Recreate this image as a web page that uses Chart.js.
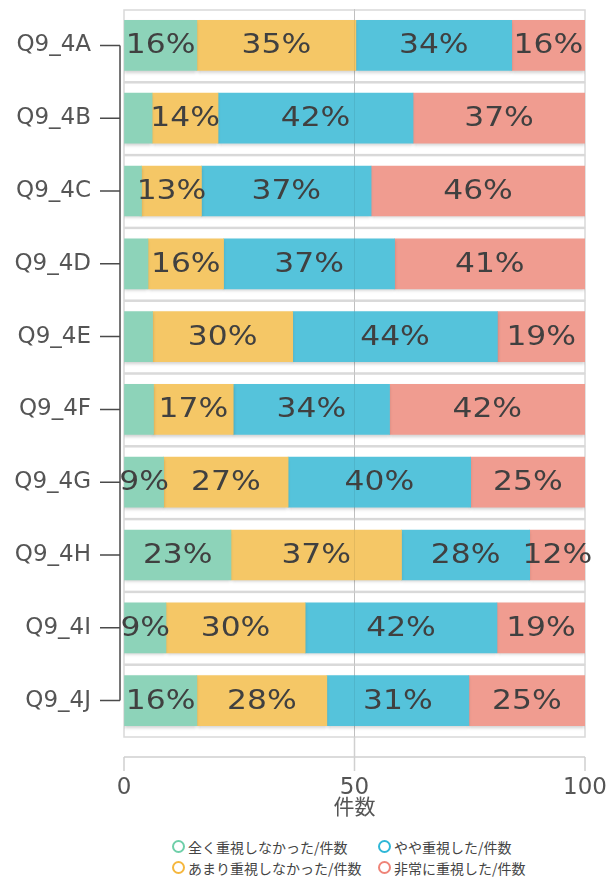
<!DOCTYPE html>
<html>
<head>
<meta charset="utf-8">
<script src="https://cdn.jsdelivr.net/npm/chart.js@4.4.1/dist/chart.umd.min.js"></script>
<style>
  html, body { margin: 0; padding: 0; background: #fff; }
  #wrap { position: relative; width: 608px; height: 883px; overflow: hidden; }
  #chart { display: block; }
  #legend {
    position: absolute; left: 172px; top: 836px;
    display: grid; grid-template-rows: 21px 21px; grid-auto-flow: column;
    grid-template-columns: 206px 160px;
    font: 14px "Noto Sans CJK JP", sans-serif; color: #444;
  }
  #legend .item { display: flex; align-items: center; white-space: nowrap; }
  #legend .ring {
    width: 9px; height: 9px; border-radius: 50%; border: 2.5px solid;
    margin-right: 3px; box-sizing: content-box;
  }
</style>
</head>
<body>
<div id="wrap">
  <canvas id="chart" width="608" height="830"></canvas>
  <div id="legend"></div>
</div>
<script>
/* ---------------------------------------------------
   Data (percent of responses)
---------------------------------------------------*/

const categories = ["Q9_4A", "Q9_4B", "Q9_4C", "Q9_4D", "Q9_4E",
                    "Q9_4F", "Q9_4G", "Q9_4H", "Q9_4I", "Q9_4J"];

const seriesNames = ["全く重視しなかった/件数", "あまり重視しなかった/件数",
                     "やや重視した/件数", "非常に重視した/件数"];

const notAtAll = [15.8, 6.1, 3.8, 5.2, 6.2, 6.4, 8.6, 23.2, 9.1, 15.8];
const notMuch  = [34.5, 14.3, 13.0, 16.4, 30.4, 17.3, 27.0, 37.0, 30.2, 28.2];
const somewhat = [33.8, 42.3, 36.8, 37.1, 44.4, 33.9, 39.6, 27.8, 41.6, 30.8];
const very     = [15.9, 37.3, 46.4, 41.3, 19.0, 42.4, 24.8, 12.0, 19.1, 25.2];

const xTicks = [0, 50, 100];

/* ---------------------------------------------------
   Styles
---------------------------------------------------*/

const barColors    = ["#8dd3b9", "#f5c766", "#55c3db", "#f09c90"];
const legendColors = ["#6fcfa9", "#f5b73e", "#2fb7d7", "#ef8478"];
const latin = '"DejaVu Sans", "Noto Sans CJK JP", sans-serif';

/* ---------------------------------------------------
   Extra drawing: tracks, bracket axis, labels
---------------------------------------------------*/

const decorations = {
    id: "decorations",

    beforeDatasetsDraw(chart) {
        const { ctx, chartArea, scales: { x, y } } = chart;
        const half = (y.getPixelForValue(1) - y.getPixelForValue(0)) / 2;
        const x0 = x.getPixelForValue(0);
        const x1 = x.getPixelForValue(100);

        ctx.save();

        // light frame round every category band
        ctx.strokeStyle = "#d9d9d9";
        ctx.lineWidth = 1.5;
        categories.forEach((c, i) => {
            const cy = y.getPixelForValue(i);
            ctx.strokeRect(x0, cy - half + 1, x1 - x0, half * 2 - 1);
        });

        // bracket-shaped y axis
        const ax = chartArea.left - 4;
        ctx.strokeStyle = "#4a4a4a";
        ctx.lineWidth = 1.5;
        ctx.beginPath();
        ctx.moveTo(ax, y.getPixelForValue(0));
        ctx.lineTo(ax, y.getPixelForValue(categories.length - 1));
        categories.forEach((c, i) => {
            const cy = y.getPixelForValue(i);
            ctx.moveTo(ax - 20, cy);
            ctx.lineTo(ax, cy);
        });
        ctx.stroke();

        // detached x axis line with ticks
        const ay = chartArea.bottom + 20;
        ctx.strokeStyle = "#d0d0d0";
        ctx.lineWidth = 1.5;
        ctx.beginPath();
        ctx.moveTo(x0, ay);
        ctx.lineTo(x1, ay);
        xTicks.forEach(v => {
            const px = x.getPixelForValue(v);
            ctx.moveTo(px, ay);
            ctx.lineTo(px, ay + 14);
        });
        const mid = x.getPixelForValue(50);
        ctx.moveTo(mid, chartArea.bottom);
        ctx.lineTo(mid, ay);
        ctx.stroke();

        ctx.restore();
    },

    beforeDatasetDraw(chart) {
        const ctx = chart.ctx;
        ctx.save();
        ctx.shadowColor = "rgba(0,0,0,0.18)";
        ctx.shadowBlur = 3;
        ctx.shadowOffsetY = 2;
    },

    afterDatasetDraw(chart) {
        chart.ctx.restore();
    },

    afterDatasetsDraw(chart) {
        const { ctx, chartArea, scales: { x } } = chart;

        ctx.save();

        // faint grid line over the bars
        const mid = x.getPixelForValue(50);
        ctx.strokeStyle = "rgba(0,0,0,0.07)";
        ctx.lineWidth = 1;
        ctx.beginPath();
        ctx.moveTo(mid, chartArea.top);
        ctx.lineTo(mid, chartArea.bottom);
        ctx.stroke();

        // percentage labels
        ctx.font = "27px " + latin;
        ctx.fillStyle = "#404040";
        ctx.textAlign = "center";
        ctx.textBaseline = "middle";

        chart.data.datasets.forEach((ds, di) => {
            chart.getDatasetMeta(di).data.forEach((bar, i) => {
                const v = ds.data[i];
                if (v < 8) return;
                ctx.save();
                ctx.translate((bar.x + bar.base) / 2, bar.y + 1);
                ctx.scale(1.16, 1);
                ctx.fillText(Math.round(v) + "%", 0, 0);
                ctx.restore();
            });
        });

        ctx.restore();
    },

    afterUpdate(chart) {
        const box = document.getElementById("legend");
        box.innerHTML = "";
        chart.data.datasets.forEach((ds, i) => {
            const item = document.createElement("div");
            item.className = "item";
            const ring = document.createElement("span");
            ring.className = "ring";
            ring.style.borderColor = legendColors[i];
            const text = document.createElement("span");
            text.textContent = ds.label;
            item.appendChild(ring);
            item.appendChild(text);
            box.appendChild(item);
        });
    }
};

/* ---------------------------------------------------
   Chart
---------------------------------------------------*/

const seriesValues = [notAtAll, notMuch, somewhat, very];

new Chart(document.getElementById("chart"), {
    type: "bar",
    data: {
        labels: categories,
        datasets: seriesValues.map((values, i) => ({
            label: seriesNames[i],
            data: values,
            backgroundColor: barColors[i],
            borderWidth: 0,
            barThickness: 50
        }))
    },
    options: {
        indexAxis: "y",
        responsive: false,
        animation: false,
        layout: { padding: { top: 9, right: 23, left: 0, bottom: 11 } },
        scales: {
            x: {
                stacked: true,
                min: 0,
                max: 100,
                afterBuildTicks: s => { s.ticks = xTicks.map(v => ({ value: v })); },
                afterFit: s => {
                    s.height = 82;
                    s.paddingLeft = 0;
                    s.paddingRight = 0;
                },
                grid: {
                    drawTicks: false,
                    color: c => (c.tick && c.tick.value === 50) ? "#cfcfcf" : "rgba(0,0,0,0)"
                },
                border: { display: false },
                ticks: {
                    padding: 37,
                    color: "#555",
                    font: { family: latin, size: 23 }
                },
                title: {
                    display: true,
                    text: "件数",
                    color: "#555",
                    padding: 0,
                    font: { family: '"Noto Sans CJK JP", sans-serif', size: 21 }
                }
            },
            y: {
                stacked: true,
                afterFit: s => {
                    s.width = 124;
                    s.paddingTop = 0;
                    s.paddingBottom = 0;
                },
                grid: { display: false, drawTicks: false },
                border: { display: false },
                ticks: {
                    padding: 33,
                    color: "#555",
                    font: { family: latin, size: 23 }
                }
            }
        },
        plugins: {
            legend: { display: false },
            tooltip: { enabled: false }
        }
    },
    plugins: [decorations]
});
</script>
</body>
</html>
